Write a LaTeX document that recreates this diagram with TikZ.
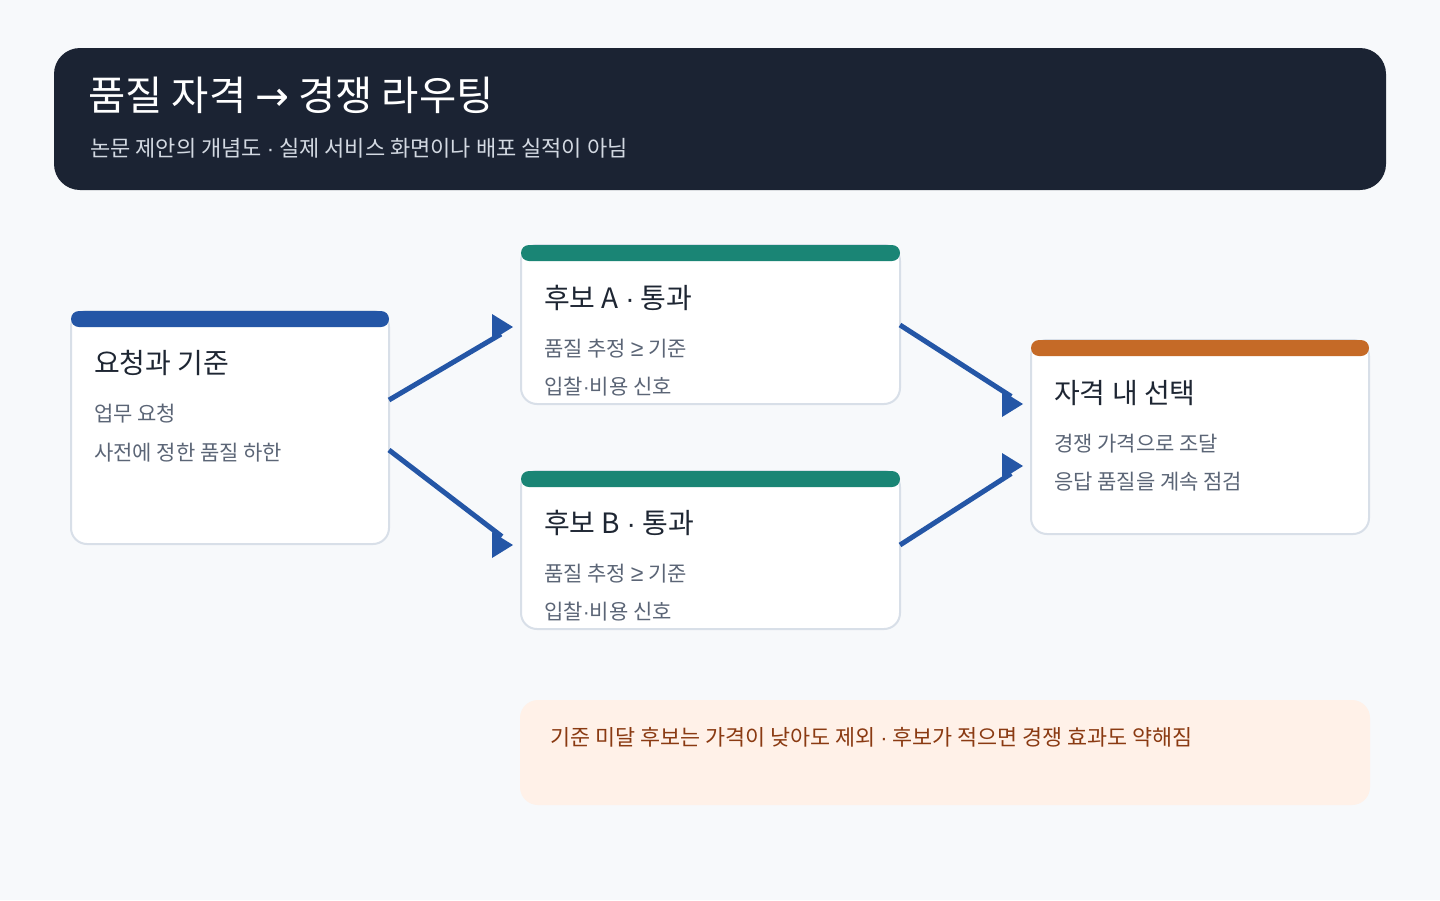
\documentclass[tikz,border=0pt]{standalone}
\usepackage{fontspec}
\setmainfont{Noto Sans CJK KR}
\newfontfamily\psfont{Liberation Sans}
\newfontfamily\djfont{DejaVu Sans}
\newcommand\Pdot{{\psfont ·}}
\newcommand\Pge{{\psfont\fontsize{23}{25}\selectfont ≥}}
\newcommand\Parr{{\djfont →}}
\usetikzlibrary{calc}
\definecolor{bg}{HTML}{F7F9FB}
\definecolor{hdr}{HTML}{1B2333}
\definecolor{subt}{HTML}{D3D9E2}
\definecolor{barblue}{HTML}{2456A6}
\definecolor{barteal}{HTML}{1A8575}
\definecolor{barorange}{HTML}{C56A27}
\definecolor{cardline}{HTML}{D8DFE8}
\definecolor{ttl}{HTML}{1E2633}
\definecolor{body}{HTML}{5B6576}
\definecolor{notefill}{HTML}{FFF1E8}
\definecolor{notetext}{HTML}{8A3A12}
\tikzset{
  card/.style={draw=cardline, line width=2pt, fill=white, rounded corners=16pt,
    inner sep=0pt, outer sep=0pt},
  cardtitle/.style={anchor=base west, inner sep=0pt, text=ttl, font=\fontsize{28}{32}\selectfont},
  cardbody/.style={anchor=base west, inner sep=0pt, text=body, font=\fontsize{21}{25}\selectfont},
  conn/.style={draw=barblue, line width=5pt},
  head/.style={fill=barblue},
}
\begin{document}
\begin{tikzpicture}[x=1pt,y=-1pt]
\fill[bg] (0,0) rectangle (1440,900);
\useasboundingbox (0,0) rectangle (1440,900);

% header
\node[fill=hdr, rounded corners=26pt, minimum width=1332pt, minimum height=142pt, inner sep=0pt] (header) at (720,119) {};
\node[anchor=base west, inner sep=0pt, text=white, font=\fontsize{40.5}{46}\selectfont] (title) at (88,110) {품질 자격 \Parr{} 경쟁 라우팅};
\node[anchor=base west, inner sep=0pt, text=subt, font=\fontsize{22}{26}\selectfont] (subtitle) at (90,156) {논문 제안의 개념도 \Pdot{} 실제 서비스 화면이나 배포 실적이 아님};

% cards
\node[card, minimum width=318pt, minimum height=233pt] (req) at (230,427.5) {};
\fill[barblue, rounded corners=8pt] (req.north west) rectangle ([yshift=-16pt]req.north east);
\node[cardtitle] (reqt) at (94,373) {요청과 기준};
\node[cardbody] (reql1) at (94,421) {업무 요청};
\node[cardbody] (reql2) at (94,460) {사전에 정한 품질 하한};

\node[card, minimum width=379pt, minimum height=159pt] (candA) at (710.5,324.5) {};
\fill[barteal, rounded corners=8pt] (candA.north west) rectangle ([yshift=-16pt]candA.north east);
\node[cardtitle] (candAt) at (544,308) {후보 A \Pdot{} 통과};
\node[cardbody] (candAl1) at (544,356) {품질 추정 \Pge{} 기준};
\node[cardbody] (candAl2) at (544,394) {입찰\Pdot{}비용 신호};

\node[card, minimum width=379pt, minimum height=158pt] (candB) at (710.5,550) {};
\fill[barteal, rounded corners=8pt] (candB.north west) rectangle ([yshift=-16pt]candB.north east);
\node[cardtitle] (candBt) at (544,533) {후보 B \Pdot{} 통과};
\node[cardbody] (candBl1) at (544,581) {품질 추정 \Pge{} 기준};
\node[cardbody] (candBl2) at (544,619) {입찰\Pdot{}비용 신호};

\node[card, minimum width=338pt, minimum height=194pt] (sel) at (1200,437) {};
\fill[barorange, rounded corners=8pt] (sel.north west) rectangle ([yshift=-16pt]sel.north east);
\node[cardtitle] (selt) at (1054,403) {자격 내 선택};
\node[cardbody] (sell1) at (1054,451) {경쟁 가격으로 조달};
\node[cardbody] (sell2) at (1054,489) {응답 품질을 계속 점검};

% note
\node[fill=notefill, rounded corners=18pt, minimum width=850pt, minimum height=105pt, inner sep=0pt] (note) at (945,752.5) {};
\node[anchor=base west, inner sep=0pt, text=notetext, font=\fontsize{21.8}{26}\selectfont] (notet) at (550,745) {기준 미달 후보는 가격이 낮아도 제외 \Pdot{} 후보가 적으면 경쟁 효과도 약해짐};

% connector endpoints
\coordinate (s1) at ($(req.east)+(0,-27.5)$);
\coordinate (t1) at ($(candA.west)+(-8,2.5)$);
\coordinate (s2) at ($(req.east)+(0,22.5)$);
\coordinate (t2) at ($(candB.west)+(-8,-5)$);
\coordinate (s3) at ($(candA.east)+(0,0.5)$);
\coordinate (t3) at ($(sel.west)+(-8,-33)$);
\coordinate (s4) at ($(candB.east)+(0,-5)$);
\coordinate (t4) at ($(sel.west)+(-8,29)$);

\foreach \s/\t in {s1/t1,s2/t2,s3/t3,s4/t4}{
  \draw[conn] (\s) -- ($(\t)!14pt!(\s)$);
  \fill[head] (\t) -- ++(-21,-13) -- ++(0,26) -- cycle;
}
\end{tikzpicture}
\end{document}
